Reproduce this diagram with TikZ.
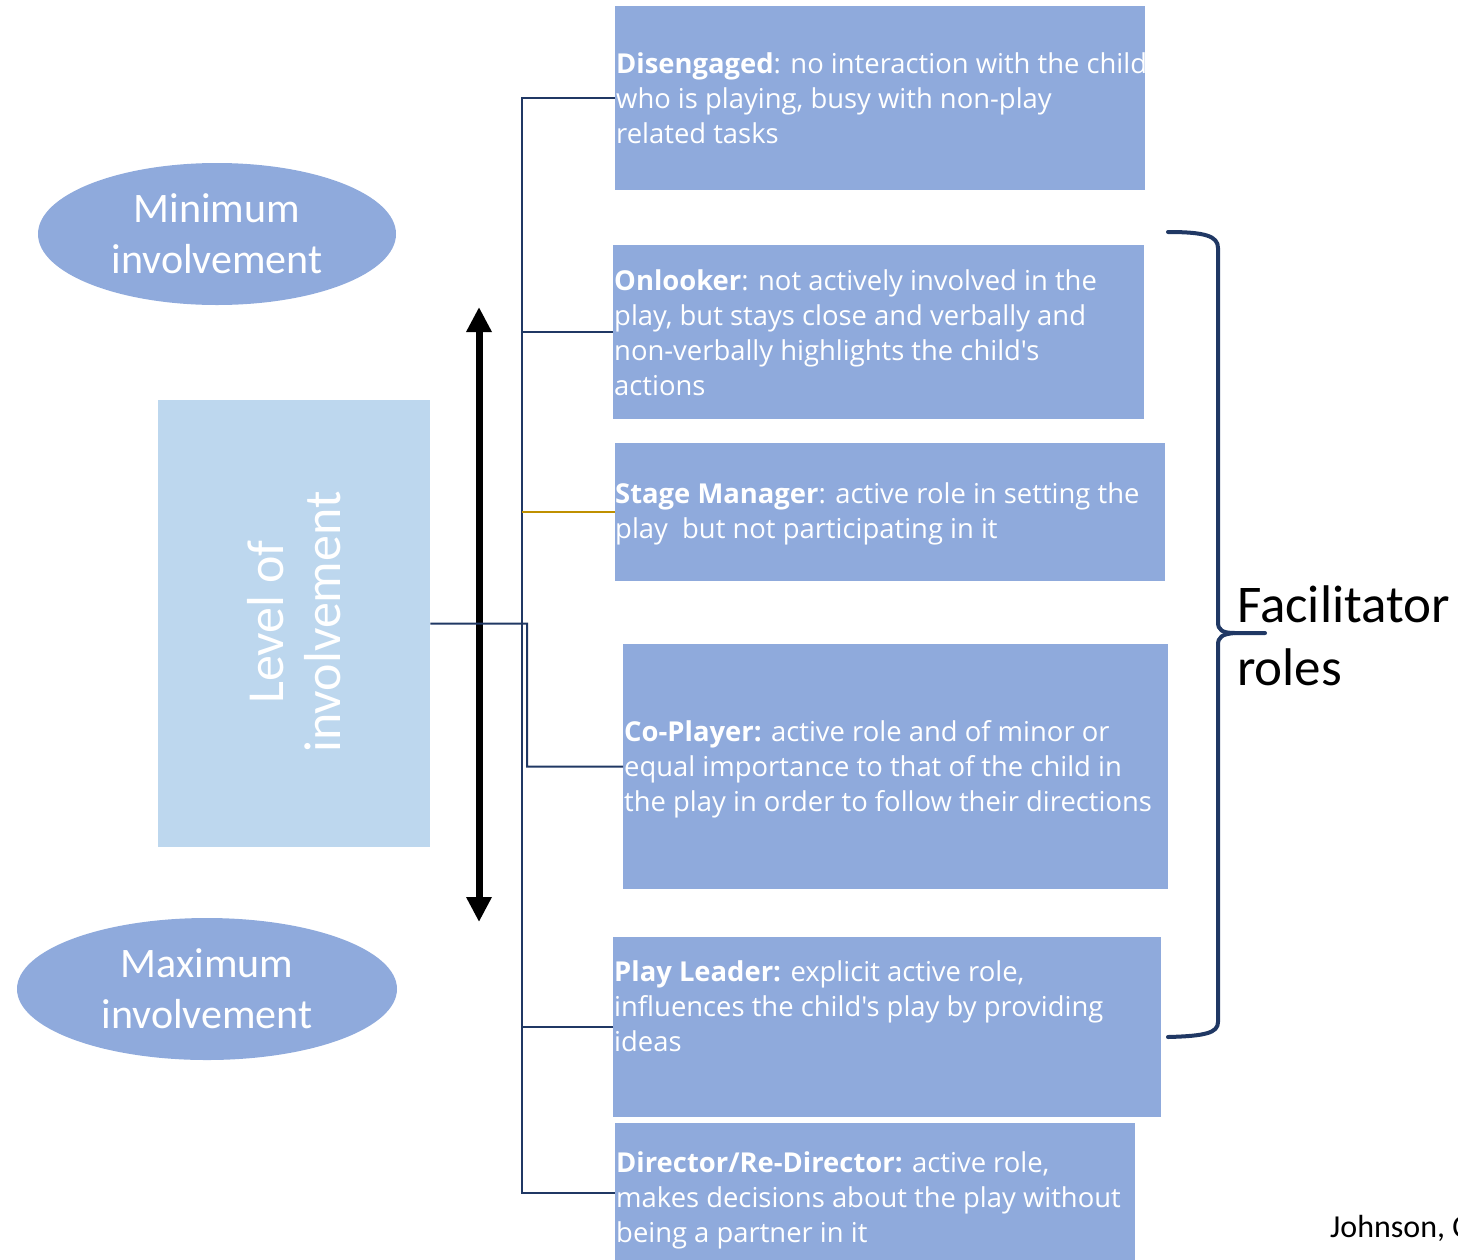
\documentclass[tikz,border=0pt]{standalone}
\usepackage{fontspec}
\setmainfont{Carlito}
\newfontfamily\boxfont{Open Sans}
\usetikzlibrary{arrows.meta,shapes.geometric,calc}
\definecolor{boxblue}{HTML}{8FAADC}
\definecolor{lightblue}{HTML}{BDD7EE}
\definecolor{navy}{HTML}{203864}
\definecolor{gold}{HTML}{BF9000}
\begin{document}
\begin{tikzpicture}[x=1pt,y=-1pt,
  rolebox/.style={fill=boxblue, draw=none, inner sep=0pt, anchor=north west},
  roletext/.style={text=white, font=\boxfont\fontsize{27.4}{35}\selectfont, align=left, inner sep=0pt, anchor=west},
  oval/.style={ellipse, fill=boxblue, draw=none, inner sep=0pt, text=white, align=center, font=\fontsize{42}{51}\selectfont},
  conn/.style={draw=navy, line width=2pt},
  goldconn/.style={draw=gold, line width=2pt},
  bracestyle/.style={draw=navy, line width=4pt, line cap=round, line join=round}]
\useasboundingbox (0,0) rectangle (1458,1259);
\clip (0,0) rectangle (1458,1259);

% ellipses
\node[oval, minimum width=358, minimum height=142] (minE) at (217,234) {Minimum\\involvement};
\node[oval, minimum width=380, minimum height=142] (maxE) at (207,989) {Maximum\\involvement};

% level of involvement
\node[fill=lightblue, draw=none, inner sep=0pt, anchor=north west, minimum width=272, minimum height=447] (lvl) at (158,400) {};
\node[rotate=90, text=white, align=center, inner sep=0pt, font=\fontsize{52}{57}\selectfont] (lvlt) at (294,622) {Level of\\involvement};

% double arrow
\coordinate (aTop) at (479,307);
\coordinate (aBot) at (479,922);
\draw[line width=7pt, {Triangle[width=24pt,length=25pt]}-{Triangle[width=24pt,length=25pt]}] (aTop) -- (aBot);

% role boxes
\node[rolebox, minimum width=530, minimum height=184] (dis) at (615,6) {};
\node[rolebox, minimum width=531, minimum height=174] (onl) at (613,245) {};
\node[rolebox, minimum width=550, minimum height=138] (stm) at (615,443) {};
\node[rolebox, minimum width=545, minimum height=245] (cop) at (623,644) {};
\node[rolebox, minimum width=548, minimum height=180] (pll) at (613,937) {};
\node[rolebox, minimum width=520, minimum height=140] (dir) at (615,1123) {};

\node[roletext] (tdis) at (616,98.5) {\textbf{Disengaged}: no interaction with the child\\who is playing, busy with non-play\\related tasks};
\node[roletext] (tonl) at (614,332.5) {\textbf{Onlooker}: not actively involved in the\\play, but stays close and verbally and\\non-verbally highlights the child's\\actions};
\node[roletext] (tstm) at (615,514) {\textbf{Stage Manager}: active role in setting the\\play\ \ but not participating in it};
\node[roletext] (tcop) at (624,769) {\textbf{Co-Player:} active role and of minor or\\equal importance to that of the child in\\the play in order to follow their directions};
\node[roletext] (tpll) at (614,1006) {\textbf{Play Leader:} explicit active role,\\influences the child's play by providing\\ideas};
\node[roletext] (tdir) at (616,1200) {\textbf{Director/Re-Director:} active role,\\makes decisions about the play without\\being a partner in it};

% connector tree
\coordinate (tTop) at (522,98);
\coordinate (tBot) at (522,1193);
\draw[conn] (dis.west) -| (tBot) -- (tBot -| dir.west);
\draw[conn] (onl.west) -- (onl.west -| tTop);
\draw[conn] (pll.west) -- (pll.west -| tTop);
\draw[goldconn] (stm.west) -- (stm.west -| tTop);
\coordinate (cpBend) at (527,766.5);
\draw[conn] (lvl.east) -| (cpBend) -- (cop.west);

% brace
\coordinate (bTop) at (1168,232);
\coordinate (bTip) at (1265,633);
\coordinate (bBot) at (1168,1037);
\draw[bracestyle] (bTop) .. controls (1205,232) and (1218,236) .. (1218,248) -- (1218,622) .. controls (1218,630) and (1222,633) .. (1235,633) -- (bTip);
\draw[bracestyle] (1235,633) .. controls (1222,634) and (1218,637) .. (1218,645) -- (1218,1022) .. controls (1218,1033) and (1205,1036) .. (bBot);

\node[anchor=west, align=left, inner sep=0pt, font=\fontsize{53}{63}\selectfont] (fac) at (1237,636) {Facilitator\\roles};
\node[anchor=west, inner sep=0pt, font=\fontsize{32}{36}\selectfont] (ref) at (1330,1228) {Johnson, C};
\end{tikzpicture}
\end{document}
